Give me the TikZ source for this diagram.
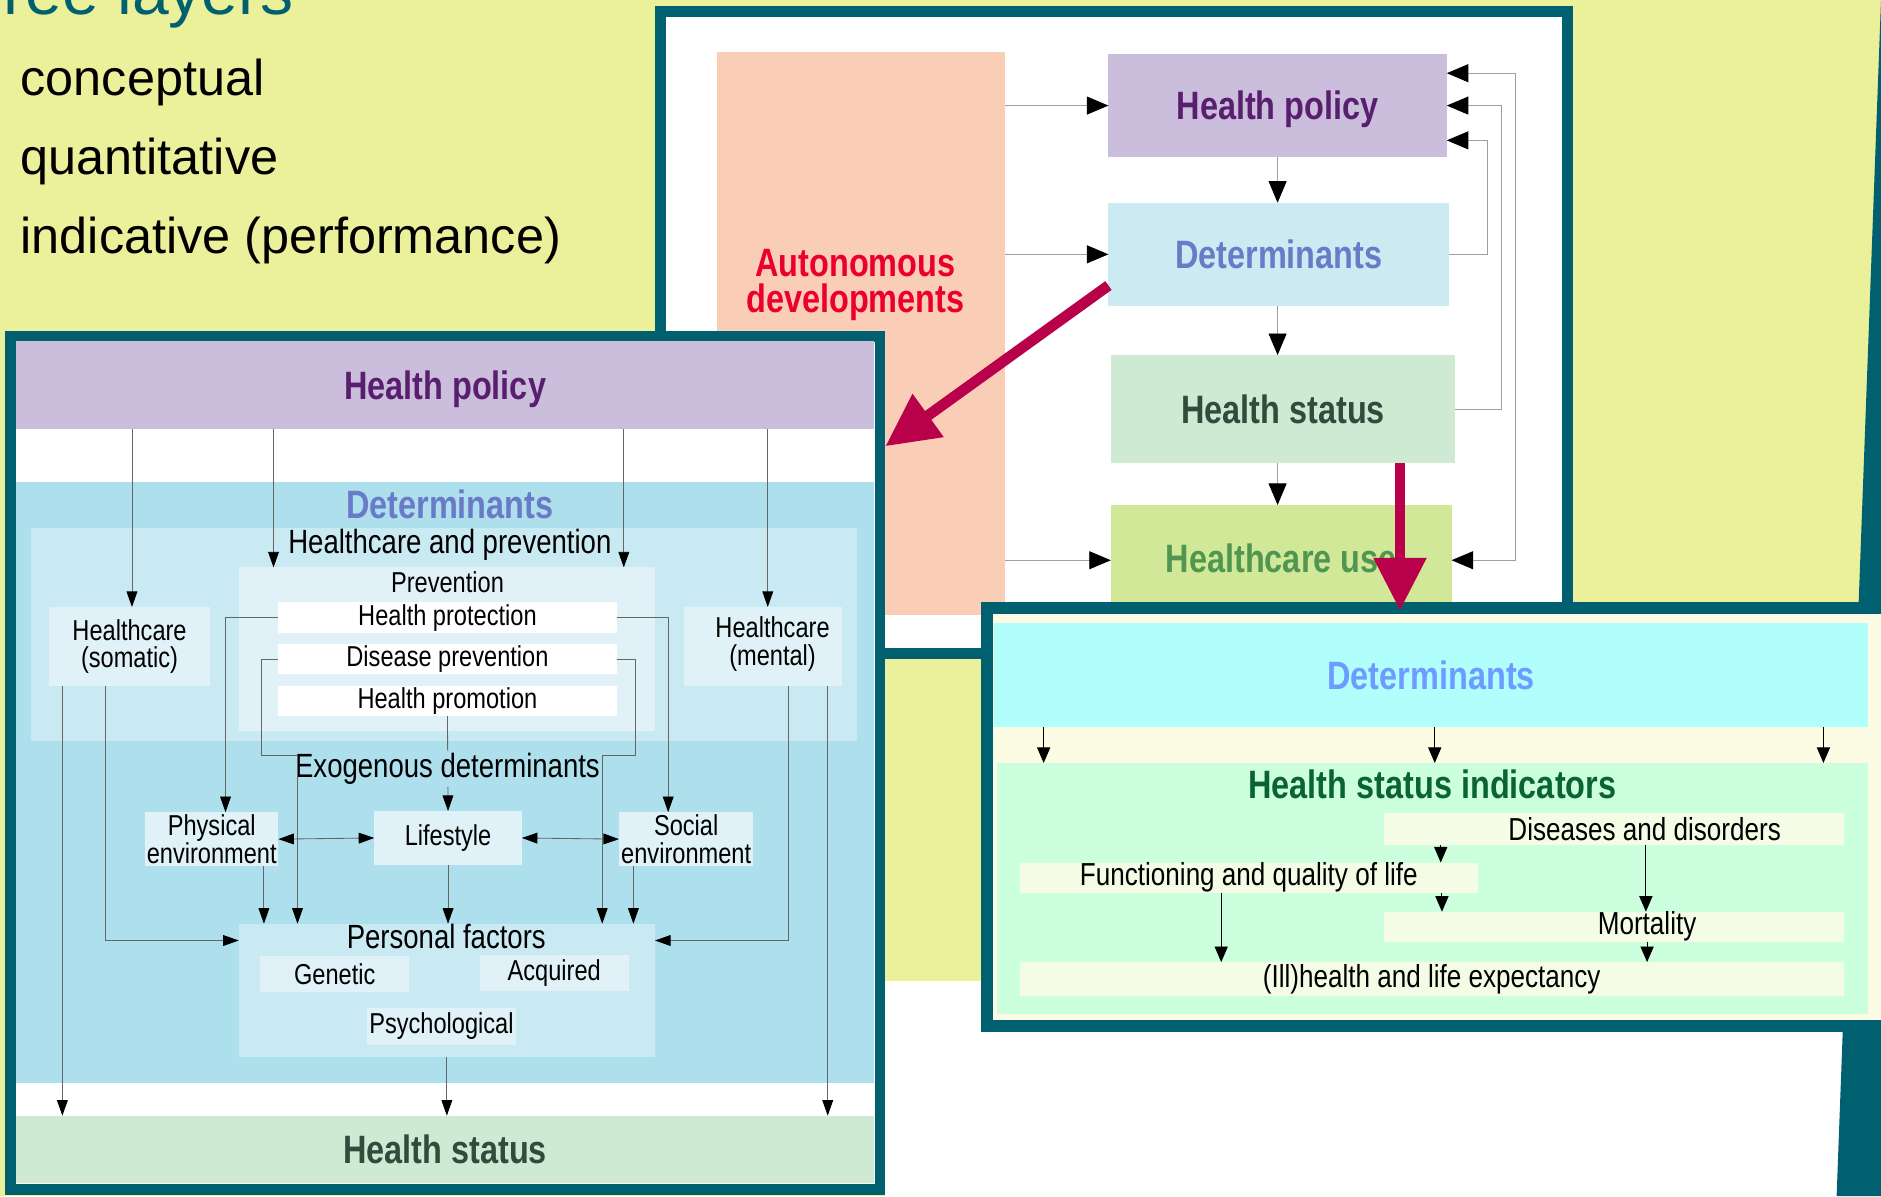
\documentclass[tikz,border=0pt]{standalone}
\usepackage{fontspec}
\setmainfont{Liberation Sans}
\newfontfamily\narrowfont[FakeStretch=0.82]{Liberation Sans}
\usepackage{xcolor}
\usetikzlibrary{positioning, arrows.meta, calc}

\definecolor{slideyellow}{RGB}{235,240,155}
\definecolor{frameteal}{RGB}{0,96,112}
\definecolor{peach}{RGB}{250,205,182}
\definecolor{policyfill}{RGB}{203,190,221}
\definecolor{policytext}{RGB}{90,30,110}
\definecolor{detfill}{RGB}{204,234,242}
\definecolor{dettext}{RGB}{105,122,200}
\definecolor{statusfill}{RGB}{206,234,210}
\definecolor{statustext}{RGB}{50,75,60}
\definecolor{usefill}{RGB}{208,232,152}
\definecolor{usetext}{RGB}{80,150,80}
\definecolor{autotext}{RGB}{235,0,45}
\definecolor{bigarrow}{RGB}{185,0,75}
\definecolor{detarea}{RGB}{173,223,236}
\definecolor{hcarea}{RGB}{201,234,242}
\definecolor{subbox}{RGB}{224,242,248}
\definecolor{cream}{RGB}{252,252,228}
\definecolor{cyanfill}{RGB}{176,255,252}
\definecolor{cyantext}{RGB}{110,155,255}
\definecolor{hsifill}{RGB}{204,255,221}
\definecolor{hsitext}{RGB}{10,100,50}
\definecolor{indfill}{RGB}{244,252,230}

\begin{document}
\begin{tikzpicture}[
    x=1pt, y=-1pt,
    panel/.style={draw=frameteal, line width=9pt, fill=white, inner sep=0pt},
    area/.style={inner sep=0pt, outer sep=0pt},
    head/.style={inner sep=0pt, align=center, text depth=0pt,
        font=\narrowfont\bfseries\fontsize{33}{30}\selectfont},
    lbl/.style={inner sep=0pt, align=center,
        font=\narrowfont\fontsize{24}{23}\selectfont},
    sub/.style={inner sep=0pt, font=\narrowfont\fontsize{28}{30}\selectfont},
    ind/.style={area, fill=indfill},
    indtxt/.style={inner sep=0pt, font=\narrowfont\fontsize{26.5}{28}\selectfont},
    bullet/.style={inner sep=0pt, anchor=base west, font=\fontsize{42}{50}\selectfont},
    ta/.style={draw=gray!75, line width=0.8pt,
        -{Triangle[length=18pt,width=15pt,color=black]}},
    tb/.style={ta, {Triangle[length=18pt,width=15pt,color=black]}-{Triangle[length=18pt,width=15pt,color=black]}},
    la/.style={draw=gray!80!black, line width=0.7pt,
        -{Triangle[length=13pt,width=9pt,color=black]}},
    lb/.style={la, {Triangle[length=13pt,width=9pt,color=black]}-{Triangle[length=13pt,width=9pt,color=black]}},
    ga/.style={draw=black, line width=0.8pt, -{Triangle[length=13pt,width=11pt]}},
    bigarr/.style={draw=bigarrow, line width=9pt, -{Triangle[length=44pt,width=42pt]}}
]
  \useasboundingbox (0,0) rectangle (1568,997);
  \fill[slideyellow] (0,0) rectangle (1568,997);
  \fill[white] (738,818) rectangle (1568,997);
  \fill[frameteal] (1568,0) -- (1531,997) -- (1568,997) -- cycle;

  \node[anchor=base east, inner sep=0pt, text=frameteal,
        font=\fontsize{55}{60}\selectfont] (ttl) at (245,12) {Three layers};
  \node[bullet] (conc) at (17,80) {conceptual};
  \node[bullet] (quant) at ([yshift=-65.5pt]conc.base west) {quantitative};
  \node[bullet] (indic) at ([yshift=-65.5pt]quant.base west) {indicative (performance)};

  % overview panel
  \node[panel, minimum width=756, minimum height=535] (panelT) at (928.5,277) {};
  \node[area, fill=peach, minimum width=240, minimum height=470] (auto) at (718,278) {};
  \node[head, text=autotext] (autoLbl) at (713,234) {Autonomous\\developments};
  \node[area, head, fill=policyfill, text=policytext, minimum width=282, minimum height=86] (hpolT) at (1065,88) {Health policy};
  \node[area, head, fill=detfill, text=dettext, minimum width=284, minimum height=86] (detT) at (1066,212) {Determinants};
  \node[area, head, fill=statusfill, text=statustext, minimum width=287, minimum height=90] (hstT) at (1069.5,341) {Health status};
  \node[area, head, fill=usefill, text=usetext, minimum width=284, minimum height=88] (hcuT) at (1068,465) {Healthcare use};

  \draw[ta] (auto.east |- hpolT.west) -- (hpolT.west);
  \draw[ta] (auto.east |- detT.west) -- (detT.west);
  \draw[ta] (auto.east |- 0,467) -- (hcuT.west |- 0,467);
  \draw[ta] (1065,0 |- hpolT.south) -- (1065,0 |- detT.north);
  \draw[ta] (1065,0 |- detT.south) -- (1065,0 |- hstT.north);
  \draw[ta] (1065,0 |- hstT.south) -- (1065,0 |- hcuT.north);
  \draw[ta] (detT.east) -- ++(32,0) |- (hpolT.east |- 0,117);
  \draw[ta] (hstT.east) -- ++(39,0) |- (hpolT.east);
  \draw[tb] (hpolT.east |- 0,61) -| (1263,467) -- (hcuT.east |- 0,467);

  % determinants in detail
  \node[panel, minimum width=725, minimum height=711] (panelL) at (371,636) {};
  \node[area, head, fill=policyfill, text=policytext, minimum width=715, minimum height=74] (hpolL) at (371,321) {Health policy};
  \node[area, fill=detarea, minimum width=715, minimum height=501] (detL) at (371,652.5) {};
  \node[head, text=dettext] (detLbl) at (375,420) {Determinants};
  \node[area, fill=hcarea, minimum width=688, minimum height=178] (hcp) at (370,529) {};
  \node[sub] (hcpLbl) at (375,454) {Healthcare and prevention};
  \node[area, fill=subbox, minimum width=347, minimum height=136] (prev) at (372.5,541) {};
  \node[lbl] (prevLbl) at (373,485) {Prevention};
  \node[area, lbl, fill=white, minimum width=282, minimum height=26] (hprot) at (373,515) {Health protection};
  \node[area, lbl, fill=white, minimum width=282, minimum height=25] (dprev) at (373,549.5) {Disease prevention};
  \node[area, lbl, fill=white, minimum width=282, minimum height=25] (hprom) at (373,584.5) {Health promotion};
  \node[area, lbl, fill=subbox, minimum width=134, minimum height=66] (hcs) at (108,539) {Healthcare\\(somatic)};
  \node[area, lbl, fill=subbox, minimum width=132, minimum height=66] (hcm) at (636,539) {};
  \node[lbl] (hcmLbl) at (644,537) {Healthcare\\(mental)};
  \node[area, lbl, fill=subbox, minimum width=111, minimum height=45] (phys) at (176.5,699.5) {Physical\\environment};
  \node[area, lbl, fill=subbox, minimum width=123, minimum height=45] (life) at (373.5,698.5) {Lifestyle};
  \node[area, lbl, fill=subbox, minimum width=112, minimum height=45] (soc) at (572,699.5) {Social\\environment};
  \draw[la] (hprom.south) -- (life.north);
  \node[sub, fill=detarea, inner ysep=2pt] (exo) at (373,641) {Exogenous determinants};
  \node[area, fill=hcarea, minimum width=347, minimum height=111] (pers) at (372.5,825.5) {};
  \node[sub] (persLbl) at (372,781) {Personal factors};
  \node[area, lbl, fill=subbox, minimum width=124, minimum height=30] (gen) at (279,812) {Genetic};
  \node[area, lbl, fill=subbox, minimum width=124, minimum height=30] (acq) at (462,811) {Acquired};
  \node[area, lbl, fill=subbox, minimum width=124, minimum height=31] (psy) at (368,855.5) {Psychological};
  \node[area, head, fill=statusfill, text=statustext, minimum width=715, minimum height=56] (hstL) at (371,958) {Health status};

  \draw[la] (110,0 |- hpolL.south) -- (110,0 |- hcs.north);
  \draw[la] (228,0 |- hpolL.south) -- (228,0 |- prev.north);
  \draw[la] (520,0 |- hpolL.south) -- (520,0 |- prev.north);
  \draw[la] (640,0 |- hpolL.south) -- (640,0 |- hcm.north);
  \draw[la] (52,0 |- hcs.south) -- (52,0 |- hstL.north);
  \draw[la] (88,0 |- hcs.south) |- (pers.west |- 0,784);
  \draw[la] (690,0 |- hcm.south) -- (690,0 |- hstL.north);
  \draw[la] (657,0 |- hcm.south) |- (pers.east |- 0,784);
  \draw[la] (hprot.west) -| (188,0 |- phys.north);
  \draw[la] (hprot.east) -| (557,0 |- soc.north);
  \draw[la] (dprev.west) -| (218,630) -| (248,0 |- pers.north);
  \draw[la] (dprev.east) -| (530,630) -| (502,0 |- pers.north);
  \draw[lb] (phys.east) -- (life.west);
  \draw[lb] (life.east) -- (soc.west);
  \draw[la] (220,0 |- phys.south) -- (220,0 |- pers.north);
  \draw[la] (528,0 |- soc.south) -- (528,0 |- pers.north);
  \draw[la] (life.south) -- (life.south |- pers.north);
  \draw[la] (pers.south) -- (pers.south |- hstL.north);

  % health status indicators
  \node[panel, line width=10pt, fill=cream, minimum width=777, minimum height=348] (panelG) at (1211.5,681) {};
  \node[area, head, fill=cyanfill, text=cyantext, minimum width=728, minimum height=87] (detG) at (1193,562.5) {Determinants};
  \node[area, fill=hsifill, minimum width=726, minimum height=209] (hsi) at (1194,740.5) {};
  \node[head, text=hsitext] (hsiLbl) at (1194,654) {Health status indicators};
  \node[ind, minimum width=383, minimum height=26] (dis) at (1345.5,691) {};
  \node[indtxt] (disLbl) at (1371,691) {Diseases and disorders};
  \node[ind, indtxt, minimum width=382, minimum height=25] (fun) at (1041,731.5) {Functioning and quality of life};
  \node[ind, minimum width=383, minimum height=25] (mort) at (1345.5,772.5) {};
  \node[indtxt] (mortLbl) at (1373,772) {Mortality};
  \node[ind, indtxt, minimum width=687, minimum height=28] (ill) at (1193.5,816) {(Ill)health and life expectancy};

  \foreach \gx in {870,1196,1520}
    \draw[ga] (\gx,0 |- detG.south) -- (\gx,0 |- hsi.north);
  \draw[ga] (1201,0 |- dis.south) -- (1201,0 |- fun.north);
  \draw[ga] (1202,0 |- fun.south) -- (1202,0 |- mort.north);
  \draw[ga] (1372,0 |- dis.south) -- (1372,0 |- mort.north);
  \draw[ga] (1373,0 |- mort.south) -- (1373,0 |- ill.north);
  \draw[ga] (1018,0 |- fun.south) -- (1018,0 |- ill.north);

  \draw[bigarr] ([yshift=17pt]detT.south west) -- (panelL.east |- 0,372);
  \draw[bigarr, shorten >=-7pt] (1167,0 |- hstT.south) -- (1167,0 |- panelG.north);
\end{tikzpicture}
\end{document}
